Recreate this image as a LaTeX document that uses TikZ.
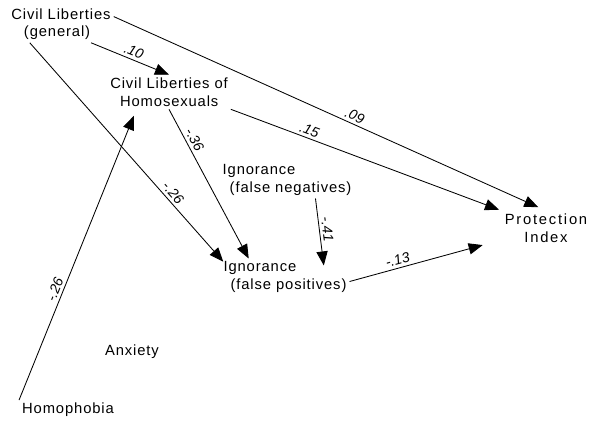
\documentclass[tikz,border=0pt]{standalone}
\usepackage{fontspec}
\newfontfamily\plotfont[LetterSpace=6]{Liberation Sans}
\newfontfamily\coeffont{Liberation Sans}
\usetikzlibrary{arrows.meta}

\begin{document}
\begin{tikzpicture}[x=0.025cm,y=-0.025cm,
    var/.style={font=\plotfont\fontsize{10.5}{12.5}\selectfont, inner sep=2pt},
    effect/.style={line width=0.6pt, -{Triangle[length=10pt,width=8pt]}},
    coef/.style={font=\coeffont\itshape\fontsize{10}{12}\selectfont, sloped, above, inner sep=2pt}]
        \useasboundingbox (0,0) rectangle (590,422);
        \node[var, align=left] (gen) at (61,24) {Civil Liberties\\\hspace{9pt}(general)};
        \node[var, align=left] (clh) at (169,92) {Civil Liberties of\\\hspace{7pt}Homosexuals};
        \node[var, align=left] (ifn) at (287,180) {Ignorance\\\hspace{5pt}(false negatives)};
        \node[var, align=left] (ifp) at (285,277) {Ignorance\\\hspace{5pt}(false positives)};
        \node[var, align=center] (pi) at (546,228) {\addfontfeatures{LetterSpace=12}Protection\\\addfontfeatures{LetterSpace=12}Index};
        \node[var] (anx) at (132,352) {Anxiety};
        \node[var] (hom) at (68,410) {Homophobia};
        \draw[effect] (gen.-32) -- node[coef, pos=0.51] {.10} (clh.north);
        \draw[effect, shorten >=6pt] (gen.8) -- node[coef, pos=0.55] {.09} (pi.north);
        \draw[effect, shorten >=-3pt] (gen.-149) -- node[coef, pos=0.72] {-.26} (ifp.north west);
        \draw[effect, shorten >=2pt] (clh.south east) -- node[coef, pos=0.28] {.15} (pi.north west);
        \draw[effect] (clh.south) -- node[coef, pos=0.23] {-.36} (ifp.153);
        \draw[effect, shorten >=5pt] (hom.north west) -- node[coef, pos=0.37] {-.26} (clh.-152);
        \draw[effect, shorten >=-5pt] (ifn.-33) -- node[coef, pos=0.53] {-.41} (ifp.26);
        \draw[effect, shorten >=14pt] (ifp.-4) -- node[coef, pos=0.33] {-.13} (pi.195);
    \end{tikzpicture}
\end{document}
